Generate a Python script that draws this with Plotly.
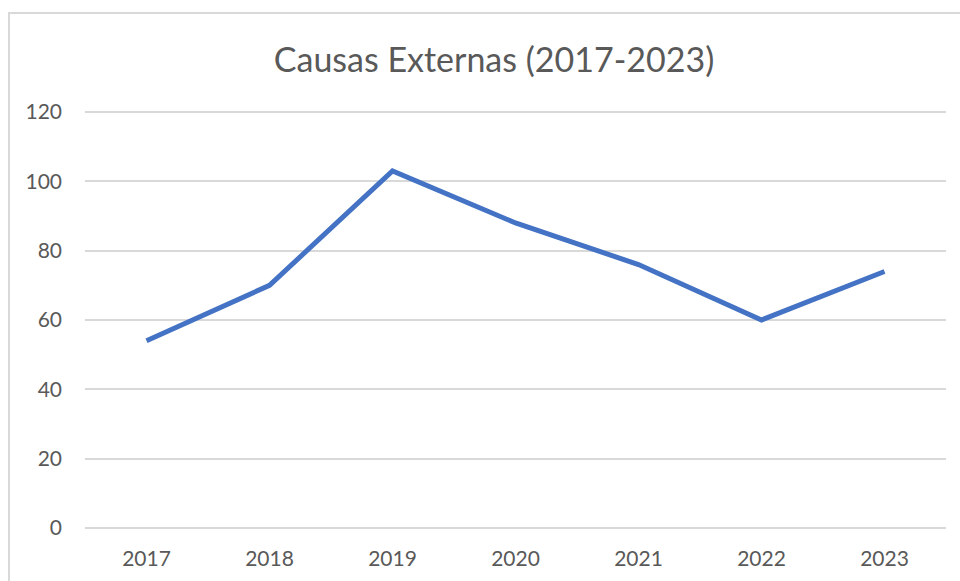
import plotly.graph_objects as go

years = ["2017", "2018", "2019", "2020", "2021", "2022", "2023"]
values = [54, 70, 103, 88, 76, 60, 74]
y_ticks = [0, 20, 40, 60, 80, 100, 120]

W, H = 960, 581
# y range padded slightly so that the 0 and 120 gridlines are drawn
y_lo, y_hi = -0.6, 120.6
px_per_unit = (528 - 112) / 120.0
top_px = 112 - (y_hi - 120) * px_per_unit
bot_px = 528 + (0 - y_lo) * px_per_unit
L, R = 85, 14
T, B = top_px, H - bot_px
pw, ph = W - L - R, bot_px - top_px

def px(x):
    return (x - L) / pw

def py(y):
    return (bot_px - y) / ph

fig = go.Figure()
fig.add_trace(go.Scatter(
    x=years, y=values, mode="lines",
    line=dict(color="#4472C4", width=5),
    hoverinfo="x+y", showlegend=False,
))

fig.update_layout(
    width=W, height=H,
    margin=dict(l=L, r=R, t=T, b=B, pad=0, autoexpand=False),
    paper_bgcolor="white", plot_bgcolor="white",
    font=dict(family="Lato, Noto Sans, sans-serif", color="#595959", size=21),
    title=dict(text="Causas Externas (2017-2023)", xref="container", x=494 / W,
               xanchor="center", yref="container", y=1 - 60 / H, yanchor="middle",
               font=dict(size=34, color="#595959")),
    xaxis=dict(type="category", showgrid=False, zeroline=False, showline=False,
               ticks="", ticklabelstandoff=14, range=[-0.5, 6.5], automargin=False),
    yaxis=dict(range=[y_lo, y_hi], tickvals=y_ticks, showgrid=True,
               gridcolor="#d9d9d9", gridwidth=1.5, zeroline=False, showline=False,
               ticks="", ticklabelstandoff=22, automargin=False),
    shapes=[dict(type="rect", xref="paper", yref="paper",
                 x0=px(9), x1=px(975), y0=py(595), y1=py(13),
                 line=dict(color="#d9d9d9", width=2), fillcolor="rgba(0,0,0,0)",
                 layer="below")],
)

fig.write_html("out.html", config={"displayModeBar": False},
               post_script="document.body.style.margin='0';")
